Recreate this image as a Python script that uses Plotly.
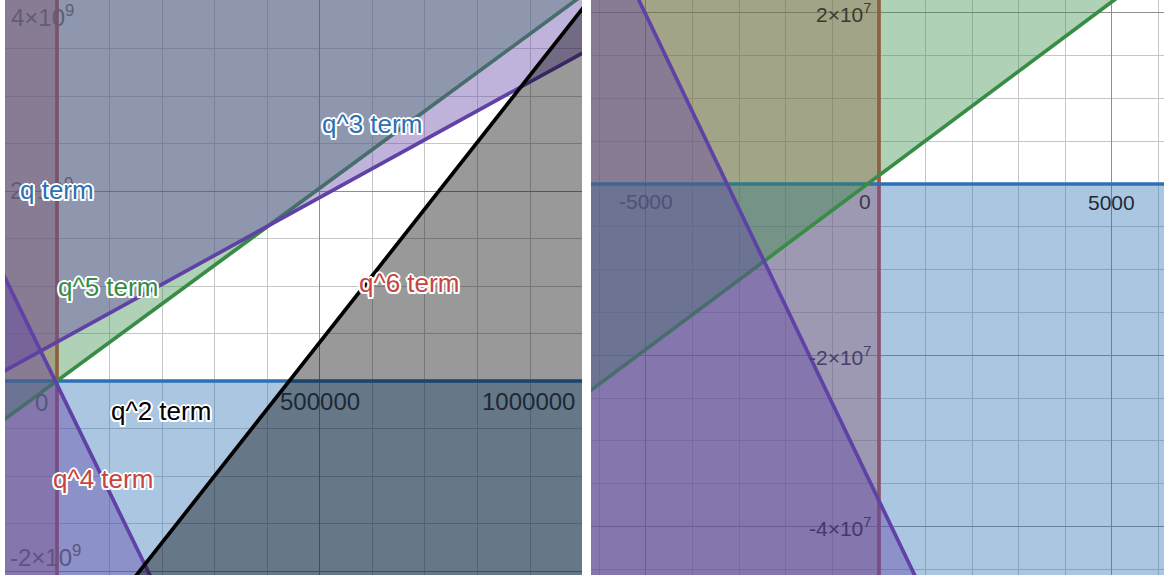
import plotly.graph_objects as go

# ---------------- data ----------------
# view windows of the two panels
left_xrange = [-98935, 998865]
left_yrange = [-2.042e9, 4.0105e9]
right_xrange = [-6180, 6116]
right_yrange = [-4.5677e7, 2.1495e7]

# boundary lines  y = slope * x + intercept   (slope None -> vertical line x = intercept)
boundary_names = ["x = 0", "y = 0", "q^5 line", "q^3 line", "q^4 line", "q^6 line"]
boundary_slopes = [None, 0.0, 4060.0, 3043.0, -11350.0, 7026.0]
boundary_intercepts = [0.0, 0.0, 1.0e6, 4.1e8, -3.7e7, -3.1055e9]
boundary_sides = ["left", "below", "above", "above", "below", "below"]
boundary_colors = ["#c74440", "#2d70b3", "#388c46", "#6042a6", "#6042a6", "#000000"]

# series labels (left panel)
label_texts = ["q term", "q^3 term", "q^5 term", "q^6 term", "q^2 term", "q^4 term"]
label_x = [0, 599300, 97000, 669700, 197900, 87500]
label_y = [2.01e9, 2.705e9, 9.9e8, 1.03e9, -3.16e8, -1.03e9]
label_colors = ["#2d70b3", "#2d70b3", "#388c46", "#c74440", "#000000", "#c74440"]

# tick labels
left_x_ticks = [0, 500000, 1000000]
left_x_labels = ["0", "500000", "1000000"]
left_y_ticks = [4e9, 2e9, -2e9]
left_y_labels = ["4×10<sup>9</sup>", "2×10<sup>9</sup>", "-2×10<sup>9</sup>"]
right_x_ticks = [-5000, 0, 5000]
right_x_labels = ["-5000", "0", "5000"]
right_y_ticks = [2e7, -2e7, -4e7]
right_y_labels = ["2×10<sup>7</sup>", "-2×10<sup>7</sup>", "-4×10<sup>7</sup>"]

FONT = "Arial, Liberation Sans, sans-serif"


def hex_rgba(h, a):
    h = h.lstrip("#")
    return "rgba(%d,%d,%d,%s)" % (int(h[0:2], 16), int(h[2:4], 16), int(h[4:6], 16), a)


def clip_poly(poly, a, b, c):
    """keep the part of poly where a*x + b*y + c >= 0"""
    out = []
    n = len(poly)
    for i in range(n):
        p = poly[i]
        q = poly[(i + 1) % n]
        fp = a * p[0] + b * p[1] + c
        fq = a * q[0] + b * q[1] + c
        if fp >= 0:
            out.append(p)
        if (fp >= 0) != (fq >= 0):
            t = fp / (fp - fq)
            out.append((p[0] + t * (q[0] - p[0]), p[1] + t * (q[1] - p[1])))
    return out


fig = go.Figure()

panels = [("x", "y", left_xrange, left_yrange), ("x2", "y2", right_xrange, right_yrange)]

for xref, yref, xr, yr in panels:
    dx = (xr[1] - xr[0]) * 0.05
    dy = (yr[1] - yr[0]) * 0.05
    x0, x1 = xr[0] - dx, xr[1] + dx
    y0, y1 = yr[0] - dy, yr[1] + dy
    rect = [(x0, y0), (x1, y0), (x1, y1), (x0, y1)]
    for name, m, k, side, col in zip(boundary_names, boundary_slopes, boundary_intercepts,
                                     boundary_sides, boundary_colors):
        if m is None:
            a, b, c = (-1.0, 0.0, k) if side == "left" else (1.0, 0.0, -k)
            lx, ly = [k, k], [y0, y1]
        else:
            if side == "above":
                a, b, c = -m, 1.0, -k
            else:
                a, b, c = m, -1.0, k
            lx = [x0, x1]
            ly = [m * x0 + k, m * x1 + k]
        poly = clip_poly(rect, a, b, c)
        if poly:
            fig.add_trace(go.Scatter(
                x=[p[0] for p in poly] + [poly[0][0]],
                y=[p[1] for p in poly] + [poly[0][1]],
                fill="toself", mode="lines", line=dict(width=0, color=hex_rgba(col, 0)),
                fillcolor=hex_rgba(col, 0.4), hoverinfo="skip", showlegend=False,
                xaxis=xref, yaxis=yref, name=name))
        fig.add_trace(go.Scatter(
            x=lx, y=ly, mode="lines", line=dict(color=col, width=3.7),
            hoverinfo="skip", showlegend=False, xaxis=xref, yaxis=yref, name=name))

annotations = []


def tick_ann(text, x, y, xref, yref, color, size, xanchor="center", yanchor="middle",
             xshift=0, yshift=0):
    annotations.append(dict(text=text, x=x, y=y, xref=xref, yref=yref, showarrow=False,
                            xanchor=xanchor, yanchor=yanchor, xshift=xshift, yshift=yshift,
                            font=dict(family=FONT, size=size, color=color)))


# left panel tick labels
tick_ann(left_x_labels[0], left_x_ticks[0], 0, "x", "y", "#4f5a78", 24, "right", "middle", -7, -21)
tick_ann(left_x_labels[1], left_x_ticks[1], 0, "x", "y", "#1c2836", 24, "center", "middle", 0, -20)
tick_ann(left_x_labels[2], left_xrange[1], 0, "x", "y", "#1c2836", 24, "right", "middle", -5, -20)
tick_ann(left_y_labels[0], left_xrange[0], left_y_ticks[0], "x", "y", "#615d74", 24, "left", "top", 4, 2)
tick_ann(left_y_labels[1], left_xrange[0], left_y_ticks[1], "x", "y", "#615d74", 24, "left", "middle", 3, 2)
tick_ann(left_y_labels[2], left_xrange[0], left_yrange[0], "x", "y", "#5c5580", 24, "left", "bottom", 3, 2)
# right panel tick labels
tick_ann(right_x_labels[0], right_x_ticks[0], 0, "x2", "y2", "#4e5275", 21, "center", "middle", 0, -17)
tick_ann(right_x_labels[1], right_x_ticks[1], 0, "x2", "y2", "#3a3a45", 21, "right", "middle", -6, -17)
tick_ann(right_x_labels[2], right_x_ticks[2], 0, "x2", "y2", "#1f2a38", 21, "center", "middle", 0, -18)
tick_ann(right_y_labels[0], 0, right_y_ticks[0], "x2", "y2", "#3a3a30", 21, "right", "middle", -6, 0)
tick_ann(right_y_labels[1], 0, right_y_ticks[1], "x2", "y2", "#45406a", 21, "right", "middle", -6, -1)
tick_ann(right_y_labels[2], 0, right_y_ticks[2], "x2", "y2", "#403a6a", 21, "right", "middle", -6, -1)

halo = ("2px 0 0 #fff, -2px 0 0 #fff, 0 2px 0 #fff, 0 -2px 0 #fff, "
        "1.5px 1.5px 0 #fff, -1.5px -1.5px 0 #fff, 1.5px -1.5px 0 #fff, -1.5px 1.5px 0 #fff")
for t, x, y, c in zip(label_texts, label_x, label_y, label_colors):
    annotations.append(dict(text=t, x=x, y=y, xref="x", yref="y", showarrow=False,
                            xanchor="center", yanchor="middle",
                            font=dict(family=FONT, size=26, color=c, shadow=halo)))

axis_common = dict(showticklabels=False, ticks="", showline=False, zeroline=False,
                   showgrid=True, gridcolor="#8e8e8e", gridwidth=1)

fig.update_layout(
    width=1164, height=579,
    margin=dict(l=0, r=0, t=0, b=4),
    paper_bgcolor="white", plot_bgcolor="white",
    showlegend=False,
    xaxis=dict(domain=[5 / 1164, 582 / 1164], range=left_xrange, dtick=500000, tick0=0,
               minor=dict(dtick=100000, showgrid=True, gridcolor="#c6c6c6", gridwidth=1),
               anchor="y", **axis_common),
    yaxis=dict(domain=[0, 1], range=left_yrange, dtick=2e9, tick0=0,
               minor=dict(dtick=5e8, showgrid=True, gridcolor="#c6c6c6", gridwidth=1),
               anchor="x", **axis_common),
    xaxis2=dict(domain=[591 / 1164, 1], range=right_xrange, dtick=5000, tick0=0,
                minor=dict(dtick=1000, showgrid=True, gridcolor="#c6c6c6", gridwidth=1),
                anchor="y2", **axis_common),
    yaxis2=dict(domain=[0, 1], range=right_yrange, dtick=2e7, tick0=0,
                minor=dict(dtick=5e6, showgrid=True, gridcolor="#c6c6c6", gridwidth=1),
                anchor="x2", **axis_common),
    annotations=annotations,
)

fig.write_html("out.html", config={"displayModeBar": False},
               post_script="document.body.style.margin='0';")
